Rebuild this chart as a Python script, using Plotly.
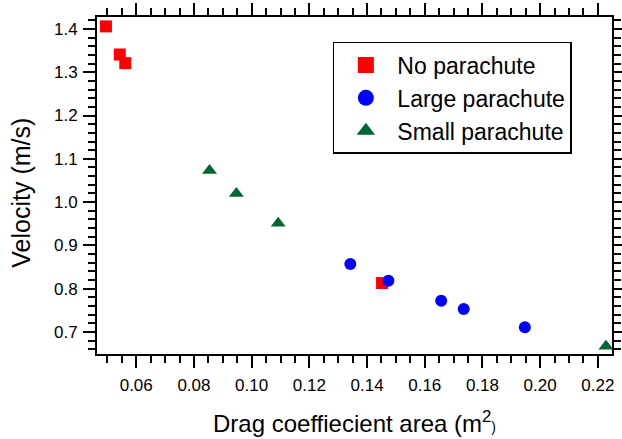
import plotly.graph_objects as go

# Data
no_para_x = [0.0495, 0.0543, 0.0562, 0.1452]
no_para_y = [1.406, 1.341, 1.321, 0.813]

large_para_x = [0.1342, 0.1474, 0.1657, 0.1735, 0.1947]
large_para_y = [0.857, 0.818, 0.772, 0.753, 0.711]

small_para_x = [0.0854, 0.0947, 0.1092, 0.2228]
small_para_y = [1.073, 1.020, 0.951, 0.667]

x_ticks = [0.06, 0.08, 0.10, 0.12, 0.14, 0.16, 0.18, 0.20, 0.22]
x_ticklabels = ["0.06", "0.08", "0.10", "0.12", "0.14", "0.16", "0.18", "0.20", "0.22"]
y_ticks = [0.7, 0.8, 0.9, 1.0, 1.1, 1.2, 1.3, 1.4]
y_ticklabels = ["0.7", "0.8", "0.9", "1.0", "1.1", "1.2", "1.3", "1.4"]

FONT = "Arial, 'Liberation Sans', sans-serif"

series = [
    ("No parachute", no_para_x, no_para_y, "square", 12, "#ff0000"),
    ("Large parachute", large_para_x, large_para_y, "circle", 12, "#0000ff"),
    ("Small parachute", small_para_x, small_para_y, "triangle-up", 13, "#006633"),
]

fig = go.Figure()
for name, xs, ys, sym, size, col in series:
    fig.add_trace(go.Scatter(x=xs, y=ys, mode="markers", name=name, legendgroup=name,
                             showlegend=False,
                             marker=dict(symbol=sym, size=size, color=col)))
    # legend entry with the larger legend symbol of the reference
    fig.add_trace(go.Scatter(x=[None], y=[None], mode="markers", name=name, legendgroup=name,
                             showlegend=True,
                             marker=dict(symbol=sym, size=16, color=col)))

axis_common = dict(
    showline=True, linecolor="black", linewidth=2, mirror="allticks",
    ticks="outside", ticklen=12, tickwidth=2, tickcolor="black",
    showgrid=False, zeroline=False, automargin=False,
    tickfont=dict(family=FONT, size=17, color="black"),
)

fig.update_xaxes(range=[0.0464, 0.2249], tickvals=x_ticks, ticktext=x_ticklabels,
                 ticklabelstandoff=3,
                 minor=dict(dtick=0.005, tick0=0.0, ticks="outside", ticklen=7, tickwidth=2,
                            tickcolor="black", showgrid=False),
                 **axis_common)
fig.update_yaxes(range=[0.649, 1.4277], tickvals=y_ticks, ticktext=y_ticklabels,
                 ticklabelstandoff=2,
                 minor=dict(dtick=0.02, tick0=0.0, ticks="outside", ticklen=7, tickwidth=2,
                            tickcolor="black", showgrid=False),
                 **axis_common)

fig.add_annotation(
    text="Drag coeffiecient area (m<sup>2</sup><span style='font-size:14px'>)</span>",
    xref="paper", yref="paper", x=0.5, y=-0.203, xanchor="center", yanchor="middle",
    showarrow=False, font=dict(family=FONT, size=24, color="black"))
fig.add_annotation(
    text="Velocity (m/s)", textangle=-90,
    xref="paper", yref="paper", x=-0.148, y=0.478, xanchor="center", yanchor="middle",
    showarrow=False, font=dict(family=FONT, size=25, color="black"))

fig.update_layout(
    width=622, height=439,
    margin=dict(l=97, r=10, t=17, b=85),
    paper_bgcolor="white", plot_bgcolor="white",
    font=dict(family=FONT, color="black"),
    legend=dict(x=0.458, y=0.926, xanchor="left", yanchor="top",
                bordercolor="black", borderwidth=1.5, bgcolor="white",
                font=dict(family=FONT, size=23, color="black"),
                itemsizing="trace", itemwidth=53, tracegroupgap=0),
    showlegend=True,
)

fig.write_html("out.html")
